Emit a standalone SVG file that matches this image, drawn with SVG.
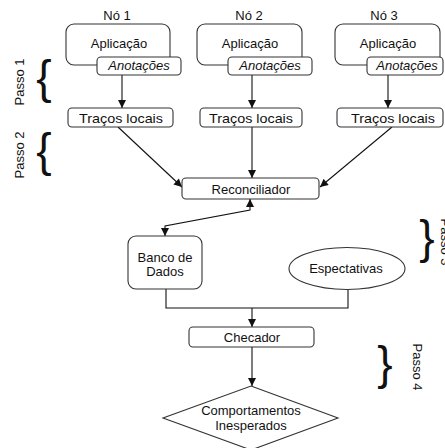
<svg xmlns="http://www.w3.org/2000/svg" width="445" height="448" viewBox="0 0 445 448">
  <defs>
    <style>
      .lbl { font-family: "Liberation Sans", Arial, sans-serif; font-size: 13px; fill: #111111; text-anchor: middle; }
      .it { font-style: italic; }
      .box { fill: #ffffff; stroke: #333333; stroke-width: 1.1; }
      .edge { fill: none; stroke: #111111; stroke-width: 1.1; }
      .brace { font-family: "Liberation Sans", Arial, sans-serif; font-size: 46px; fill: #111111; text-anchor: middle; }
    </style>
    <marker id="arrow" viewBox="0 0 10 10" refX="10" refY="5" markerWidth="9" markerHeight="8" markerUnits="userSpaceOnUse" orient="auto-start-reverse">
      <path d="M0,0 L10,5 L0,10 Z" fill="#111111"/>
    </marker>
  </defs>

  <rect width="445" height="448" fill="#ffffff"/>

  <!-- step labels and braces -->
  <g id="steps">
    <text class="lbl" transform="translate(24,82) rotate(-90)">Passo 1</text>
    <text class="brace" x="44" y="93">{</text>
    <text class="lbl" transform="translate(24,155) rotate(-90)">Passo 2</text>
    <text class="brace" x="44" y="166">{</text>
    <text class="brace" x="427" y="253">}</text>
    <text class="lbl" transform="translate(441,242) rotate(90)">Passo 3</text>
    <text class="brace" x="385" y="379">}</text>
    <text class="lbl" transform="translate(413,367) rotate(90)">Passo 4</text>
  </g>

  <!-- connectors -->
  <g id="connectors">
    <path class="edge" d="M122,75 L122,108" marker-end="url(#arrow)"/>
    <path class="edge" d="M252,75 L252,108" marker-end="url(#arrow)"/>
    <path class="edge" d="M388,75 L388,108" marker-end="url(#arrow)"/>
    <path class="edge" d="M118,127 L182,187" marker-end="url(#arrow)"/>
    <path class="edge" d="M252,127 L252,178" marker-end="url(#arrow)"/>
    <path class="edge" d="M392,127 L320,187" marker-end="url(#arrow)"/>
    <path class="edge" d="M250,199 L250,210 L165,226 L165,236" marker-start="url(#arrow)" marker-end="url(#arrow)"/>
    <path class="edge" d="M166,289 L166,308 L348,308 L348,290"/>
    <path class="edge" d="M252,308 L252,327" marker-end="url(#arrow)"/>
    <path class="edge" d="M252,347 L252,386" marker-end="url(#arrow)"/>
  </g>

  <!-- node 1 -->
  <g id="node1">
    <text class="lbl" x="117" y="20">Nó 1</text>
    <rect class="box" x="66" y="24" width="104" height="41" rx="8"/>
    <text class="lbl" x="119" y="48">Aplicação</text>
    <rect class="box" x="97" y="57" width="84" height="18" rx="4"/>
    <text class="lbl it" x="139" y="70">Anotações</text>
  </g>
  <g id="traces1">
    <rect class="box" x="68" y="108" width="105" height="19" rx="4"/>
    <text class="lbl" x="121" y="122.5" textLength="84" lengthAdjust="spacingAndGlyphs">Traços locais</text>
  </g>

  <!-- node 2 -->
  <g id="node2">
    <text class="lbl" x="249" y="20">Nó 2</text>
    <rect class="box" x="197" y="24" width="105" height="41" rx="8"/>
    <text class="lbl" x="250" y="48">Aplicação</text>
    <rect class="box" x="228" y="57" width="84" height="18" rx="4"/>
    <text class="lbl it" x="270" y="70">Anotações</text>
  </g>
  <g id="traces2">
    <rect class="box" x="200" y="108" width="102" height="19" rx="4"/>
    <text class="lbl" x="251" y="122.5" textLength="84" lengthAdjust="spacingAndGlyphs">Traços locais</text>
  </g>

  <!-- node 3 -->
  <g id="node3">
    <text class="lbl" x="384" y="20">Nó 3</text>
    <rect class="box" x="335" y="24" width="105" height="41" rx="8"/>
    <text class="lbl" x="388" y="48">Aplicação</text>
    <rect class="box" x="367" y="57" width="76" height="18" rx="4"/>
    <text class="lbl it" x="407" y="70">Anotações</text>
  </g>
  <g id="traces3">
    <rect class="box" x="337" y="108" width="106" height="19" rx="4"/>
    <text class="lbl" x="393" y="122.5" textLength="84" lengthAdjust="spacingAndGlyphs">Traços locais</text>
  </g>

  <!-- reconciler -->
  <g id="reconciliador">
    <rect class="box" x="182" y="178" width="137" height="21" rx="4"/>
    <text class="lbl" x="251" y="193.5">Reconciliador</text>
  </g>

  <!-- database -->
  <g id="banco">
    <rect class="box" x="128" y="236" width="74" height="53" rx="8"/>
    <text class="lbl" x="165" y="261.5">Banco de</text>
    <text class="lbl" x="165" y="275.5">Dados</text>
  </g>

  <!-- expectations -->
  <g id="espectativas">
    <ellipse class="box" cx="347" cy="268.5" rx="58" ry="21"/>
    <text class="lbl" x="346" y="272.5">Espectativas</text>
  </g>

  <!-- checker -->
  <g id="checador">
    <rect class="box" x="189" y="327" width="125" height="20" rx="4"/>
    <text class="lbl" x="252" y="341.5">Checador</text>
  </g>

  <!-- unexpected behaviours -->
  <g id="comportamentos">
    <polygon class="box" points="251,386 338,418 251,450 163,418"/>
    <text class="lbl" x="251" y="415">Comportamentos</text>
    <text class="lbl" x="251" y="430">Inesperados</text>
  </g>
</svg>
